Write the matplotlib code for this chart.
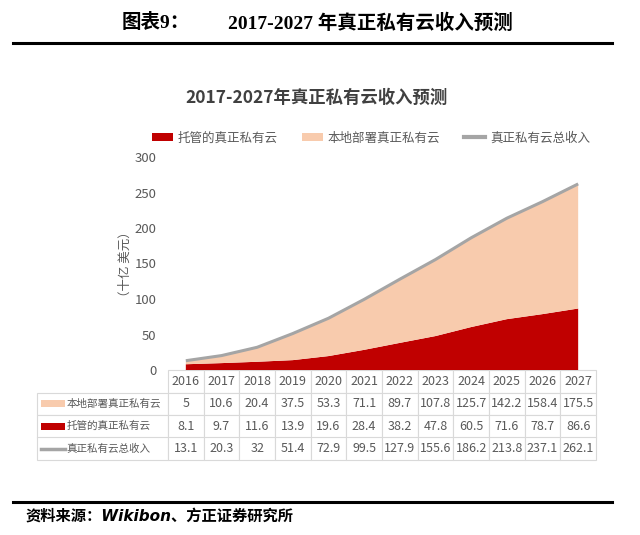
import matplotlib
matplotlib.use('Agg')
import matplotlib.pyplot as plt
from matplotlib.patches import Patch, Rectangle
from matplotlib.lines import Line2D

# ---------------- data ----------------
years = ['2016', '2017', '2018', '2019', '2020', '2021',
         '2022', '2023', '2024', '2025', '2026', '2027']
onprem = [5, 10.6, 20.4, 37.5, 53.3, 71.1, 89.7, 107.8, 125.7, 142.2, 158.4, 175.5]
hosted = [8.1, 9.7, 11.6, 13.9, 19.6, 28.4, 38.2, 47.8, 60.5, 71.6, 78.7, 86.6]
total = [13.1, 20.3, 32, 51.4, 72.9, 99.5, 127.9, 155.6, 186.2, 213.8, 237.1, 262.1]
legend_names = ['托管的真正私有云', '本地部署真正私有云', '真正私有云总收入']
table_labels = ['本地部署真正私有云', '托管的真正私有云', '真正私有云总收入']
yticks = [0, 50, 100, 150, 200, 250, 300]

RED = '#C00000'
PEACH = '#F8CBAD'
GRAY = '#A5A5A5'
TXT = '#595959'

CJK = ['Noto Sans CJK SC', 'DejaVu Sans']
NARROW = ['Liberation Sans Narrow', 'Noto Sans CJK SC', 'DejaVu Sans']
SERIF = ['Liberation Serif', 'Noto Sans CJK SC', 'DejaVu Sans']

W, H = 640, 535
fig = plt.figure(figsize=(W / 100, H / 100), dpi=100)
fig.patch.set_facecolor('white')


def fx(px):
    return px / W


def fy(py):
    return 1 - py / H


# ---------------- header / footer ----------------
fig.text(fx(122), fy(23), '图表9：', family=SERIF, fontsize=14, fontweight='bold',
         ha='left', va='center', color='black')
fig.text(fx(228), fy(23), '2017-2027 年真正私有云收入预测', family=SERIF, fontsize=14,
         fontweight='bold', ha='left', va='center', color='black')
fig.add_artist(Line2D([fx(13), fx(612)], [fy(43), fy(43)], color='black', lw=2.2))
fig.add_artist(Line2D([fx(13), fx(612)], [fy(502), fy(502)], color='black', lw=2.2))
fig.text(fx(26), fy(516), '资料来源：Wikibon、方正证券研究所', family=['DejaVu Sans', 'Noto Sans CJK SC'],
         fontsize=11, fontweight='bold', style='italic', ha='left', va='center', color='black')

# chart title
fig.text(fx(317), fy(98), '2017-2027年真正私有云收入预测', family=NARROW, fontsize=12.5,
         fontweight='bold', ha='center', va='center', color='#404040')

# ---------------- axes ----------------
ax = fig.add_axes([fx(168), fy(370), fx(596) - fx(168), fy(157) - fy(370)])
x = list(range(len(years)))
ax.stackplot(x, hosted, onprem, colors=[RED, PEACH], linewidth=0)
ax.plot(x, total, color=GRAY, lw=2.2, solid_capstyle='butt')
ax.set_xlim(-0.5, len(years) - 0.5)
ax.set_ylim(0, 300)
ax.set_yticks(yticks)
ax.set_xticks([])
for s in ax.spines.values():
    s.set_visible(False)
ax.tick_params(axis='y', length=0, pad=8.5, labelsize=9.5, labelcolor=TXT)
for t in ax.get_yticklabels():
    t.set_fontfamily(NARROW)

fig.text(fx(125), fy(264), '（十亿 美元）', family=CJK, fontsize=9, rotation=90,
         ha='center', va='center', color=TXT)

# legend
handles = [Patch(facecolor=RED, edgecolor='none'),
           Patch(facecolor=PEACH, edgecolor='none'),
           Line2D([], [], color=GRAY, lw=3)]
fig.legend(handles, legend_names, ncol=3, loc='center', bbox_to_anchor=(fx(371), fy(138)),
           frameon=False, prop={'family': CJK, 'size': 9}, labelcolor=TXT,
           handlelength=1.7, handleheight=0.55, handletextpad=0.4, columnspacing=1.9)

# ---------------- data table ----------------
series_rows = [onprem, hosted, total]
cell_text = [[''] + years]
for lbl, vals in zip(table_labels, series_rows):
    cell_text.append([lbl] + [f'{v:g}' for v in vals])

ax_h_px = 370 - 157
tab_left = (37 - 168) / 428
tab_bottom = -(460 - 370) / ax_h_px
tbl = ax.table(cellText=cell_text, cellLoc='center',
               colWidths=[131 / 428] + [1 / 12] * 12,
               bbox=[tab_left, tab_bottom, 1 - tab_left, -tab_bottom])
tbl.auto_set_font_size(False)
for (r, c), cell in tbl.get_celld().items():
    cell.set_edgecolor('#D9D9D9')
    cell.set_linewidth(0.8)
    txt = cell.get_text()
    txt.set_color(TXT)
    if c == 0:
        txt.set_fontfamily(CJK)
        txt.set_fontsize(7.6)
        txt.set_ha('left')
        cell.PAD = 0.225
        if r == 0:
            cell.visible_edges = 'open'
    else:
        txt.set_fontfamily(NARROW)
        txt.set_fontsize(9)

# legend keys inside the table label cells
row_h = (460 - 370) / 4
key_styles = [('patch', PEACH), ('patch', RED), ('line', GRAY)]
for i, (kind, col) in enumerate(key_styles):
    yc = 370 + row_h * (i + 1.5)
    if kind == 'patch':
        fig.add_artist(Rectangle((fx(41), fy(yc + 3.5)), fx(65) - fx(41), fy(yc - 3.5) - fy(yc + 3.5),
                                 facecolor=col, edgecolor='none', transform=fig.transFigure))
    else:
        fig.add_artist(Line2D([fx(41), fx(65)], [fy(yc), fy(yc)], color=col, lw=2.5))

fig.savefig('out.png', dpi=100)
